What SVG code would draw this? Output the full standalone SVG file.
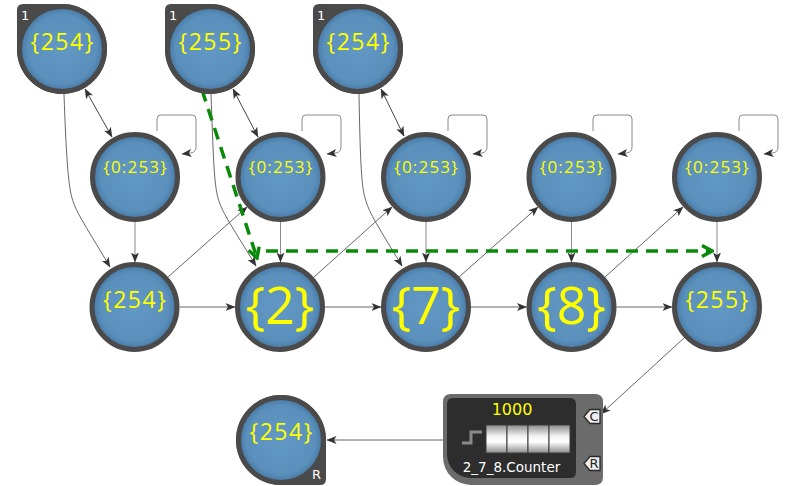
<svg xmlns="http://www.w3.org/2000/svg" width="787" height="486" viewBox="0 0 787 486">
<defs>
<radialGradient id="gBlue" cx="50%" cy="50%" r="50%">
<stop offset="0" stop-color="#6298c4"/>
<stop offset="0.8" stop-color="#5b90bd"/>
<stop offset="1" stop-color="#4476a3"/>
</radialGradient>
<linearGradient id="gReel" x1="0" y1="0" x2="0" y2="1">
<stop offset="0" stop-color="#8c8c8c"/>
<stop offset="0.4" stop-color="#f2f2f2"/>
<stop offset="0.6" stop-color="#ffffff"/>
<stop offset="1" stop-color="#8c8c8c"/>
</linearGradient>
<marker id="ah" viewBox="0 0 10 8" refX="9.5" refY="4" markerWidth="10" markerHeight="8" markerUnits="userSpaceOnUse" orient="auto-start-reverse">
<path d="M0,0 L10,4 L0,8 L2.5,4 Z" fill="#333"/>
</marker>
<marker id="gh" viewBox="0 0 14 14" refX="12" refY="7" markerWidth="14" markerHeight="14" markerUnits="userSpaceOnUse" orient="auto">
<path d="M2,1.5 L12,7 L2,12.5" fill="none" stroke="#0a8a0a" stroke-width="3.5" stroke-linejoin="miter"/>
</marker>
</defs>
<style>
.ring{fill:url(#gBlue);stroke:#4a4a4a;stroke-width:5}
.tab{fill:#4a4a4a}
.lbl{font-family:"Open Sans","DejaVu Sans",sans-serif;fill:#ffff00;text-anchor:middle}
.s23{font-size:23px;letter-spacing:1.5px}
.s17{font-size:17px;letter-spacing:1.2px}
.s52{font-size:52px}
.tag{font-family:"DejaVu Sans",sans-serif;font-size:13px;fill:#ffffff}
.ln{fill:none;stroke:#555;stroke-width:0.9;marker-end:url(#ah)}
.lp{fill:none;stroke:#8a8a8a;stroke-width:1;marker-end:url(#ah)}
.dbl{fill:none;stroke:#444;stroke-width:1;marker-start:url(#ah);marker-end:url(#ah)}
.grn{fill:none;stroke:#0a8a0a;stroke-width:3.5;stroke-dasharray:12 8;marker-end:url(#gh)}
.reel{fill:url(#gReel);stroke:#3a3a3a;stroke-width:1}
.port{fill:#eeeeee;stroke:#2a2a2a;stroke-width:1.3}
.ptxt{font-family:"DejaVu Sans",sans-serif;font-size:13px;fill:#222;text-anchor:middle}
</style>
<rect width="787" height="486" fill="#ffffff"/>

<g id="connectors">
<path class="dbl" d="M85,89 L112,137"/>
<path class="dbl" d="M233,89 L258,137"/>
<path class="dbl" d="M381,89 L404,136"/>
<path class="ln" d="M64,94 C66,150 68,185 72,198 C76,212 82,220 110,267"/>
<path class="ln" d="M211,94 C213,150 214,185 218,198 C222,212 228,220 256,266"/>
<path class="ln" d="M359,94 C360,150 361,185 365,198 C369,212 374,220 402,266"/>
<path class="lp" d="M157,131 V119 Q157,115 161,115 H192 Q196,115 196,119 V147 Q196,152 191,153 L182,154"/>
<path class="lp" d="M302,131 V119 Q302,115 306,115 H337 Q341,115 341,119 V147 Q341,152 336,153 L327,154"/>
<path class="lp" d="M448,131 V119 Q448,115 452,115 H483 Q487,115 487,119 V147 Q487,152 482,153 L473,154"/>
<path class="lp" d="M593,131 V119 Q593,115 597,115 H628 Q632,115 632,119 V147 Q632,152 627,153 L618,154"/>
<path class="lp" d="M739,131 V119 Q739,115 743,115 H774 Q778,115 778,119 V147 Q778,152 773,153 L764,154"/>
<path class="lp" d="M135,222 V262"/>
<path class="lp" d="M280.5,222 V262"/>
<path class="lp" d="M426,222 V262"/>
<path class="lp" d="M571.5,222 V262"/>
<path class="lp" d="M717,222 V262"/>
<path class="ln" d="M179.5,307 H235"/>
<path class="ln" d="M325,307 H381"/>
<path class="ln" d="M471,307 H526.5"/>
<path class="ln" d="M616.5,307 H672"/>
<path class="ln" d="M168,277 L247,207"/>
<path class="ln" d="M314,277 L392,207"/>
<path class="ln" d="M459,277 L538,207"/>
<path class="ln" d="M605,277 L683,207"/>
<path class="ln" d="M684,338 L601,414"/>
<path class="ln" d="M443,440 H327"/>
<path class="grn" d="M202,90 L257,258"/>
<path class="grn" d="M266,251 H712"/>
</g>

<g id="n_top1">
<path class="tab" d="M17,49 V10 Q17,4 23,4 H62 A45,45 0 1 1 17,49 Z"/>
<circle class="ring" cx="62" cy="49" r="42.5"/>
<text class="tag" x="21" y="20">1</text>
<text class="lbl s23" x="62.7" y="50">{254}</text>
</g>
<g id="n_top2">
<path class="tab" d="M165,49 V10 Q165,4 171,4 H210 A45,45 0 1 1 165,49 Z"/>
<circle class="ring" cx="210" cy="49" r="42.5"/>
<text class="tag" x="169" y="20">1</text>
<text class="lbl s23" x="210.7" y="50">{255}</text>
</g>
<g id="n_top3">
<path class="tab" d="M313,49 V10 Q313,4 319,4 H358 A45,45 0 1 1 313,49 Z"/>
<circle class="ring" cx="358" cy="49" r="42.5"/>
<text class="tag" x="317" y="20">1</text>
<text class="lbl s23" x="358.7" y="50">{254}</text>
</g>

<g id="n_mid1"><circle class="ring" cx="135" cy="177" r="42.5"/><text class="lbl s17" x="135.6" y="172.5">{0:253}</text></g>
<g id="n_mid2"><circle class="ring" cx="280.5" cy="177" r="42.5"/><text class="lbl s17" x="281.1" y="172.5">{0:253}</text></g>
<g id="n_mid3"><circle class="ring" cx="426" cy="177" r="42.5"/><text class="lbl s17" x="426.6" y="172.5">{0:253}</text></g>
<g id="n_mid4"><circle class="ring" cx="571.5" cy="177" r="42.5"/><text class="lbl s17" x="572.1" y="172.5">{0:253}</text></g>
<g id="n_mid5"><circle class="ring" cx="717" cy="177" r="42.5"/><text class="lbl s17" x="717.6" y="172.5">{0:253}</text></g>

<g id="n_b1"><circle class="ring" cx="134.5" cy="307" r="42.5"/><text class="lbl s23" x="135.2" y="308">{254}</text></g>
<g id="n_b2"><circle class="ring" cx="280" cy="307" r="42.5"/><text class="lbl s52" x="280" y="324">{2}</text></g>
<g id="n_b3"><circle class="ring" cx="426" cy="307" r="42.5"/><text class="lbl s52" x="426" y="324">{7}</text></g>
<g id="n_b4"><circle class="ring" cx="571.5" cy="307" r="42.5"/><text class="lbl s52" x="571.5" y="324">{8}</text></g>
<g id="n_b5"><circle class="ring" cx="717" cy="307" r="42.5"/><text class="lbl s23" x="717.7" y="308">{255}</text></g>

<g id="n_reset">
<path class="tab" d="M326,440 V479 Q326,485 320,485 H281 A45,45 0 1 1 326,440 Z"/>
<circle class="ring" cx="281" cy="440" r="42.5"/>
<text class="tag" x="312" y="479">R</text>
<text class="lbl s23" x="281.7" y="440">{254}</text>
</g>

<g id="n_counter">
<path d="M451,394 H595 Q603,394 603,402 V477 Q603,485 595,485 H471 A28,28 0 0 1 443,457 V402 Q443,394 451,394 Z" fill="#6b6b6b"/>
<path d="M453,398 H570 Q576,398 576,404 V472 Q576,478 570,478 H471 A24,24 0 0 1 447,454 V404 Q447,398 453,398 Z" fill="#2d2d2d"/>
<text x="512" y="415" font-family="DejaVu Sans, sans-serif" font-size="16" fill="#ffff00" text-anchor="middle">1000</text>
<path d="M462,443 H471 V432 H482" fill="none" stroke="#8a8a8a" stroke-width="3"/>
<rect class="reel" x="486" y="425" width="21" height="28"/>
<rect class="reel" x="507" y="425" width="21" height="28"/>
<rect class="reel" x="528" y="425" width="21" height="28"/>
<rect class="reel" x="549" y="425" width="21" height="28"/>
<text x="511.5" y="472" font-family="DejaVu Sans, sans-serif" font-size="13.5" fill="#ffffff" text-anchor="middle">2_7_8.Counter</text>
<polygon class="port" points="584,416.5 590,409.5 600,409.5 600,423.5 590,423.5"/>
<text class="ptxt" x="594" y="421">C</text>
<polygon class="port" points="584,463.5 590,456.5 600,456.5 600,470.5 590,470.5"/>
<text class="ptxt" x="594" y="468">R</text>
</g>
</svg>
